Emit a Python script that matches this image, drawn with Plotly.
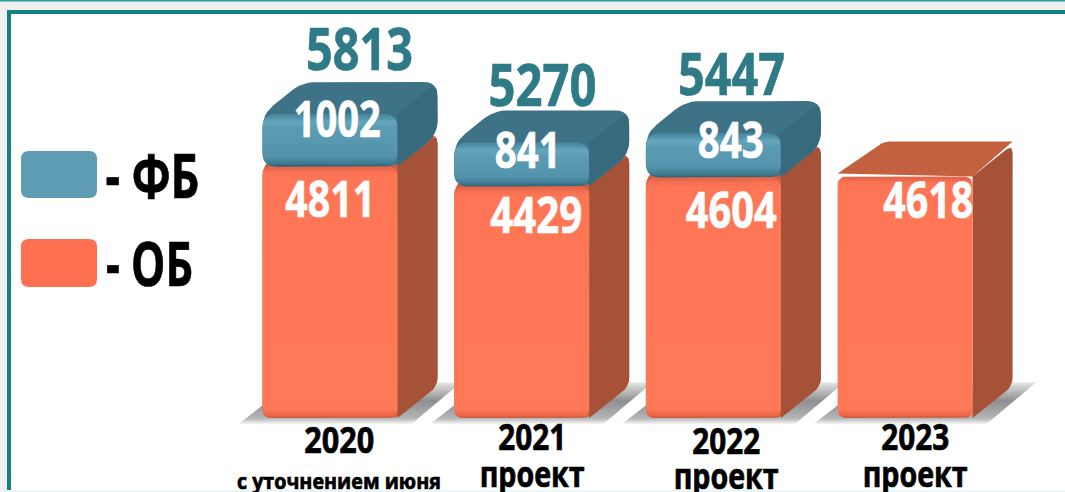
import json
import plotly.graph_objects as go

years = ["2020", "2021", "2022", "2023"]
notes = ["с уточнением июня", "проект", "проект", "проект"]
ob = [4811, 4429, 4604, 4618]
fb = [1002, 841, 843, None]
totals = [5813, 5270, 5447, None]

W, H = 1065, 492
PITCH, SCALE = 191.7, 0.0523      # px per category, px per value unit
X0, BASE = 330.0, 418.0           # px of first bar centre, px of value 0
BAR_PX, DX_PX, DY_PX = 135.0, 40.0, 32.0
xrange_ = [(0 - X0) / PITCH, (W - X0) / PITCH]
yrange_ = [(BASE - H) / SCALE, BASE / SCALE]
HW = BAR_PX / 2 / PITCH
DX, DY = DX_PX / PITCH, DY_PX / SCALE
FONT = "Open Sans"


def rounded(points, radius):
    """Round a polygon's corners; points in axis units, radius in px."""
    pts = [(x * PITCH, y * SCALE) for x, y in points]
    n = len(pts)
    xs, ys = [], []
    for k in range(n):
        r = radius[k] if isinstance(radius, (list, tuple)) else radius
        px, py = pts[k - 1]
        cx, cy = pts[k]
        nx, ny = pts[(k + 1) % n]
        d1 = max(((px - cx) ** 2 + (py - cy) ** 2) ** 0.5, 1e-6)
        d2 = max(((nx - cx) ** 2 + (ny - cy) ** 2) ** 0.5, 1e-6)
        a = (cx + (px - cx) * min(r, d1 / 2) / d1, cy + (py - cy) * min(r, d1 / 2) / d1)
        b = (cx + (nx - cx) * min(r, d2 / 2) / d2, cy + (ny - cy) * min(r, d2 / 2) / d2)
        for s in range(7):
            t = s / 6
            xs.append(((1 - t) ** 2 * a[0] + 2 * t * (1 - t) * cx + t ** 2 * b[0]) / PITCH)
            ys.append(((1 - t) ** 2 * a[1] + 2 * t * (1 - t) * cy + t ** 2 * b[1]) / SCALE)
    return xs + xs[:1], ys + ys[:1]


def poly(xs, ys, color=None, grad=None, name=None):
    kw = dict(x=xs, y=ys, mode="lines", fill="toself", hoverinfo="skip" if name is None else "name",
              name=name or "", showlegend=False, line=dict(width=0))
    if grad:
        kw["fillgradient"] = grad
    else:
        kw["fillcolor"] = color
    return go.Scatter(**kw)


def front_grad(y0, y1, stops):
    """stops: (px from bottom, colour), the negative ones counted from the top."""
    h = (y1 - y0) * SCALE
    scale = [[0, stops[0][1]]]
    for p, c in stops[1:]:
        scale.append([(p if p >= 0 else h + p) / h, c])
    scale.append([1, stops[-1][1]])
    return dict(type="vertical", colorscale=scale, start=y0, stop=y1)


ORANGE = [(0, "#C9573B"), (3, "#EE694A"), (9, "#FF7858"), (-10, "#FF7656"), (-5, "#F47052"), (-2, "#E5664A")]
BLUE = [(0, "#2F5E70"), (3, "#3F7B92"), (10, "#5393AB"), (-14, "#5B9BB3"), (-8, "#66A6BD"), (-2, "#4A8AA2")]

traces = []

# floor shadows
for i in range(len(years)):
    c = i
    sy0, sy1 = -6 / SCALE, 36 / SCALE
    pts_x = [c - HW - 24 / PITCH, c + HW + 14 / PITCH, c + HW + DX + 24 / PITCH, c - HW + 30 / PITCH]
    pts_y = [sy0, sy0, sy1, sy1]
    grad = dict(type="vertical", start=sy0, stop=sy1,
                colorscale=[[0, "#F6F6F6"], [0.14, "#B3B4B5"], [0.55, "#8E8F90"], [0.93, "#D8D8D8"], [1, "#EFEFEF"]])
    traces.append(poly(pts_x + pts_x[:1], pts_y + pts_y[:1], grad=grad))


def box(c, y0, y1, side, top, stops, name, r=9, sharp_top=False):
    xa, xb = c - HW, c + HW
    if sharp_top:
        xs, ys = rounded([(xb, y0), (xb + DX, y0 + DY), (xb + DX, y1 + DY), (xb, y1)], [0, r, r, 0])
        traces.append(poly(xs, ys, side))
        pts = [(xa, y1 + 3 / SCALE), (xa + 46 / PITCH, y1 + DY + 3 / SCALE),
               (xb + DX, y1 + DY + 3 / SCALE), (xb, y1)]
        xs, ys = rounded(pts, [0, 8, 0, 0])
        traces.append(poly(xs, ys, top))
    else:
        # whole silhouette in the top colour, then the side face over it
        xs, ys = rounded([(xa, y0), (xb, y0), (xb + DX, y0 + DY), (xb + DX, y1 + DY),
                          (xa + DX, y1 + DY), (xa, y1)], r)
        traces.append(poly(xs, ys, top))
        xs, ys = rounded([(xb, y0), (xb + DX, y0 + DY), (xb + DX, y1 + DY), (xb, y1)], [0, r, r, 0])
        traces.append(poly(xs, ys, side))
    # front face
    xs, ys = rounded([(xa, y0), (xb, y0), (xb, y1), (xa, y1)], r)
    traces.append(poly(xs, ys, grad=front_grad(y0, y1, stops), name=name))


for i in range(len(years)):
    box(i, 0, ob[i], "#A65238", "#C2603F" if fb[i] is None else "#C75E41", ORANGE,
        f"ОБ {years[i]}: {ob[i]}", sharp_top=fb[i] is None)
for i in range(len(years)):
    if fb[i] is not None:
        box(i, ob[i], ob[i] + fb[i], "#386A7E", "#3E7286", BLUE, f"ФБ {years[i]}: {fb[i]}", r=14)

ann = []
widths = []


def label(text, px, py, size, color, width):
    ann.append(dict(text=text, x=px / W, y=1 - py / H, xref="paper", yref="paper",
                    xanchor="center", yanchor="middle", showarrow=False,
                    font=dict(family=FONT, size=size, color=color, weight="bold")))
    widths.append(width)


ob_pos = [(330, 197), (536, 213), (731, 208), (928, 198)]
ob_w = [90, 92, 91, 90]
fb_pos = [(337, 117), (527, 148), (730, 138)]
fb_w = [87, 66, 66]
tot_pos = [(359, 47), (542, 83), (731, 72)]
tot_w = [107, 108, 107]
year_pos = [(339, 439), (532, 436), (726, 440), (915, 436)]
year_w = [70, 68, 68, 68]
note_pos = [(339, 480), (532, 473), (726, 475), (915, 473)]
note_w = [204, 105, 105, 105]
TEAL = "#2E7A86"

for v, p, w in zip(ob, ob_pos, ob_w):
    label(str(v), p[0], p[1], 51, "#FFFFFF", w)
for v, p, w in zip(fb, fb_pos, fb_w):
    label(str(v), p[0], p[1], 51, "#FFFFFF", w)
for v, p, w in zip(totals, tot_pos, tot_w):
    label(str(v), p[0], p[1], 59, TEAL, w)
for y, p, w in zip(years, year_pos, year_w):
    label(y, p[0], p[1], 36, "#000000", w)
for k, (n, p, w) in enumerate(zip(notes, note_pos, note_w)):
    label(n, p[0], p[1], 22 if k == 0 else 35, "#000000", w)
label("- ФБ", 152, 175, 60, "#000000", 94)
label("- ОБ", 149, 263, 60, "#000000", 87)


def rect(x0, y0, x1, y1, color):
    return dict(type="rect", xref="paper", yref="paper", x0=x0 / W, x1=x1 / W, y0=1 - y1 / H, y1=1 - y0 / H,
                fillcolor=color, line=dict(width=0), layer="below")


def swatch(x0, y0, x1, y1, color, r=8):
    a, b = x0 / W, x1 / W
    t, u = 1 - y0 / H, 1 - y1 / H
    rx, ry = r / W, r / H
    path = (f"M{a + rx},{u} L{b - rx},{u} Q{b},{u} {b},{u + ry} L{b},{t - ry} Q{b},{t} {b - rx},{t} "
            f"L{a + rx},{t} Q{a},{t} {a},{t - ry} L{a},{u + ry} Q{a},{u} {a + rx},{u} Z")
    return dict(type="path", xref="paper", yref="paper", path=path, fillcolor=color, line=dict(width=0), layer="below")


shapes = [
    rect(0, 0, W, H, "#EEF1F0"),
    rect(0, 0, W, 1.5, "#2A9C98"),
    rect(7, 10, W, H, "#12817F"),
    rect(11, 14, W, H, "#FFFFFF"),
    rect(0, 490, W, H, "#E8F7FA"),
    swatch(21, 151, 97, 198, "#5F9DB5"),
    swatch(21, 239, 97, 287, "#FF7050"),
]

fig = go.Figure(traces)
fig.update_layout(
    width=W, height=H, margin=dict(l=0, r=0, t=0, b=0), showlegend=False,
    paper_bgcolor="#FFFFFF", plot_bgcolor="rgba(0,0,0,0)",
    xaxis=dict(range=xrange_, visible=False, fixedrange=True),
    yaxis=dict(range=yrange_, visible=False, fixedrange=True),
    annotations=ann, shapes=shapes,
)
post = """
document.documentElement.style.margin = '0';
document.documentElement.style.overflow = 'hidden';
document.body.style.margin = '0';
var w = %s;
document.querySelectorAll('.annotation-text').forEach(function (t, i) {
    t.setAttribute('textLength', w[i]);
    t.setAttribute('lengthAdjust', 'spacingAndGlyphs');
    t.style.stroke = t.style.fill;
    t.style.strokeWidth = '0.7px';
});
""" % json.dumps(widths)
fig.write_html("out.html", config=dict(displayModeBar=False), post_script=post)
